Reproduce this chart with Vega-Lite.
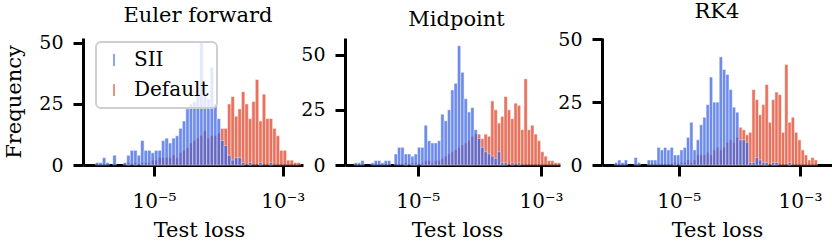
{
"$schema": "https://vega.github.io/schema/vega-lite/v6.json",
"padding": {"left": 3, "top": 1, "right": 0, "bottom": 0},
"autosize": {"type": "pad"},
"bounds": "flush",
"spacing": 42,
"config": {
  "font": "DejaVu Serif",
  "view": {"stroke": null},
  "axis": {"domainColor": "black", "domainWidth": 3, "tickColor": "black", "tickWidth": 3, "grid": false, "labelFont": "DejaVu Serif", "labelFontSize": 19, "labelColor": "black", "titleFont": "DejaVu Serif", "titleFontSize": 21, "titleFontWeight": "normal", "titleColor": "black"},
  "title": {"font": "DejaVu Serif", "fontSize": 21, "fontWeight": "normal", "color": "black", "offset": 8},
  "legend": {"strokeWidth": 2}
},
"datasets": {
"euler": [
{"series":"Default","lo":-5.424,"hi":-5.370,"count":1},
{"series":"Default","lo":-5.316,"hi":-5.262,"count":1},
{"series":"Default","lo":-5.208,"hi":-5.154,"count":1},
{"series":"Default","lo":-5.154,"hi":-5.100,"count":1},
{"series":"Default","lo":-5.100,"hi":-5.046,"count":1},
{"series":"Default","lo":-5.046,"hi":-4.992,"count":2},
{"series":"Default","lo":-4.992,"hi":-4.938,"count":2},
{"series":"Default","lo":-4.938,"hi":-4.884,"count":3},
{"series":"Default","lo":-4.884,"hi":-4.830,"count":3},
{"series":"Default","lo":-4.830,"hi":-4.776,"count":3},
{"series":"Default","lo":-4.776,"hi":-4.722,"count":3},
{"series":"Default","lo":-4.722,"hi":-4.668,"count":4},
{"series":"Default","lo":-4.668,"hi":-4.614,"count":3},
{"series":"Default","lo":-4.614,"hi":-4.560,"count":5},
{"series":"Default","lo":-4.560,"hi":-4.506,"count":6},
{"series":"Default","lo":-4.506,"hi":-4.452,"count":7},
{"series":"Default","lo":-4.452,"hi":-4.398,"count":9},
{"series":"Default","lo":-4.398,"hi":-4.344,"count":10},
{"series":"Default","lo":-4.344,"hi":-4.290,"count":11},
{"series":"Default","lo":-4.290,"hi":-4.236,"count":12},
{"series":"Default","lo":-4.236,"hi":-4.182,"count":14},
{"series":"Default","lo":-4.182,"hi":-4.128,"count":11},
{"series":"Default","lo":-4.128,"hi":-4.074,"count":12},
{"series":"Default","lo":-4.074,"hi":-4.020,"count":12},
{"series":"Default","lo":-4.020,"hi":-3.966,"count":13},
{"series":"Default","lo":-3.966,"hi":-3.912,"count":15},
{"series":"Default","lo":-3.912,"hi":-3.858,"count":15},
{"series":"Default","lo":-3.858,"hi":-3.804,"count":25},
{"series":"Default","lo":-3.804,"hi":-3.750,"count":28},
{"series":"Default","lo":-3.750,"hi":-3.696,"count":20},
{"series":"Default","lo":-3.696,"hi":-3.642,"count":23},
{"series":"Default","lo":-3.642,"hi":-3.588,"count":30},
{"series":"Default","lo":-3.588,"hi":-3.534,"count":25},
{"series":"Default","lo":-3.534,"hi":-3.480,"count":19},
{"series":"Default","lo":-3.480,"hi":-3.426,"count":26},
{"series":"Default","lo":-3.426,"hi":-3.372,"count":35},
{"series":"Default","lo":-3.372,"hi":-3.318,"count":18},
{"series":"Default","lo":-3.318,"hi":-3.264,"count":29},
{"series":"Default","lo":-3.264,"hi":-3.210,"count":19},
{"series":"Default","lo":-3.210,"hi":-3.156,"count":19},
{"series":"Default","lo":-3.156,"hi":-3.102,"count":15},
{"series":"Default","lo":-3.102,"hi":-3.048,"count":12},
{"series":"Default","lo":-3.048,"hi":-2.994,"count":6},
{"series":"Default","lo":-2.994,"hi":-2.940,"count":6},
{"series":"Default","lo":-2.940,"hi":-2.886,"count":2},
{"series":"Default","lo":-2.886,"hi":-2.832,"count":2},
{"series":"Default","lo":-2.832,"hi":-2.778,"count":1},
{"series":"Default","lo":-2.778,"hi":-2.724,"count":1},
{"series":"SII","lo":-5.910,"hi":-5.856,"count":1},
{"series":"SII","lo":-5.856,"hi":-5.802,"count":1},
{"series":"SII","lo":-5.802,"hi":-5.748,"count":3},
{"series":"SII","lo":-5.748,"hi":-5.694,"count":1},
{"series":"SII","lo":-5.640,"hi":-5.586,"count":4},
{"series":"SII","lo":-5.478,"hi":-5.424,"count":1},
{"series":"SII","lo":-5.424,"hi":-5.370,"count":4},
{"series":"SII","lo":-5.370,"hi":-5.316,"count":6},
{"series":"SII","lo":-5.316,"hi":-5.262,"count":6},
{"series":"SII","lo":-5.262,"hi":-5.208,"count":4},
{"series":"SII","lo":-5.208,"hi":-5.154,"count":10},
{"series":"SII","lo":-5.154,"hi":-5.100,"count":6},
{"series":"SII","lo":-5.100,"hi":-5.046,"count":6},
{"series":"SII","lo":-5.046,"hi":-4.992,"count":5},
{"series":"SII","lo":-4.992,"hi":-4.938,"count":6},
{"series":"SII","lo":-4.938,"hi":-4.884,"count":6},
{"series":"SII","lo":-4.884,"hi":-4.830,"count":10},
{"series":"SII","lo":-4.830,"hi":-4.776,"count":11},
{"series":"SII","lo":-4.776,"hi":-4.722,"count":9},
{"series":"SII","lo":-4.722,"hi":-4.668,"count":11},
{"series":"SII","lo":-4.668,"hi":-4.614,"count":12},
{"series":"SII","lo":-4.614,"hi":-4.560,"count":15},
{"series":"SII","lo":-4.560,"hi":-4.506,"count":18},
{"series":"SII","lo":-4.506,"hi":-4.452,"count":23},
{"series":"SII","lo":-4.452,"hi":-4.398,"count":25},
{"series":"SII","lo":-4.398,"hi":-4.344,"count":26},
{"series":"SII","lo":-4.344,"hi":-4.290,"count":29},
{"series":"SII","lo":-4.290,"hi":-4.236,"count":50},
{"series":"SII","lo":-4.236,"hi":-4.182,"count":29},
{"series":"SII","lo":-4.182,"hi":-4.128,"count":27},
{"series":"SII","lo":-4.128,"hi":-4.074,"count":40},
{"series":"SII","lo":-4.074,"hi":-4.020,"count":25},
{"series":"SII","lo":-4.020,"hi":-3.966,"count":19},
{"series":"SII","lo":-3.966,"hi":-3.912,"count":10},
{"series":"SII","lo":-3.912,"hi":-3.858,"count":8},
{"series":"SII","lo":-3.858,"hi":-3.804,"count":4},
{"series":"SII","lo":-3.804,"hi":-3.750,"count":2},
{"series":"SII","lo":-3.750,"hi":-3.696,"count":3},
{"series":"SII","lo":-3.696,"hi":-3.642,"count":3},
{"series":"SII","lo":-3.642,"hi":-3.588,"count":1},
{"series":"SII","lo":-3.534,"hi":-3.480,"count":1},
{"series":"SII","lo":-3.372,"hi":-3.318,"count":1},
{"series":"SII","lo":-3.210,"hi":-3.156,"count":1}
],
"midpoint": [
{"series":"Default","lo":-5.220,"hi":-5.166,"count":1},
{"series":"Default","lo":-5.112,"hi":-5.058,"count":1},
{"series":"Default","lo":-5.058,"hi":-5.004,"count":1},
{"series":"Default","lo":-4.950,"hi":-4.896,"count":1},
{"series":"Default","lo":-4.896,"hi":-4.842,"count":2},
{"series":"Default","lo":-4.842,"hi":-4.788,"count":2},
{"series":"Default","lo":-4.788,"hi":-4.734,"count":1},
{"series":"Default","lo":-4.734,"hi":-4.680,"count":2},
{"series":"Default","lo":-4.680,"hi":-4.626,"count":2},
{"series":"Default","lo":-4.626,"hi":-4.572,"count":3},
{"series":"Default","lo":-4.572,"hi":-4.518,"count":4},
{"series":"Default","lo":-4.518,"hi":-4.464,"count":5},
{"series":"Default","lo":-4.464,"hi":-4.410,"count":6},
{"series":"Default","lo":-4.410,"hi":-4.356,"count":7},
{"series":"Default","lo":-4.356,"hi":-4.302,"count":8},
{"series":"Default","lo":-4.302,"hi":-4.248,"count":9},
{"series":"Default","lo":-4.248,"hi":-4.194,"count":10},
{"series":"Default","lo":-4.194,"hi":-4.140,"count":11},
{"series":"Default","lo":-4.140,"hi":-4.086,"count":13},
{"series":"Default","lo":-4.086,"hi":-4.032,"count":14},
{"series":"Default","lo":-4.032,"hi":-3.978,"count":14},
{"series":"Default","lo":-3.978,"hi":-3.924,"count":12},
{"series":"Default","lo":-3.924,"hi":-3.870,"count":14},
{"series":"Default","lo":-3.870,"hi":-3.816,"count":13},
{"series":"Default","lo":-3.816,"hi":-3.762,"count":29},
{"series":"Default","lo":-3.762,"hi":-3.708,"count":25},
{"series":"Default","lo":-3.708,"hi":-3.654,"count":19},
{"series":"Default","lo":-3.654,"hi":-3.600,"count":22},
{"series":"Default","lo":-3.600,"hi":-3.546,"count":31},
{"series":"Default","lo":-3.546,"hi":-3.492,"count":25},
{"series":"Default","lo":-3.492,"hi":-3.438,"count":21},
{"series":"Default","lo":-3.438,"hi":-3.384,"count":28},
{"series":"Default","lo":-3.384,"hi":-3.330,"count":27},
{"series":"Default","lo":-3.330,"hi":-3.276,"count":16},
{"series":"Default","lo":-3.276,"hi":-3.222,"count":39},
{"series":"Default","lo":-3.222,"hi":-3.168,"count":16},
{"series":"Default","lo":-3.168,"hi":-3.114,"count":18},
{"series":"Default","lo":-3.114,"hi":-3.060,"count":14},
{"series":"Default","lo":-3.060,"hi":-3.006,"count":11},
{"series":"Default","lo":-3.006,"hi":-2.952,"count":6},
{"series":"Default","lo":-2.952,"hi":-2.898,"count":4},
{"series":"Default","lo":-2.898,"hi":-2.844,"count":2},
{"series":"Default","lo":-2.844,"hi":-2.790,"count":2},
{"series":"Default","lo":-2.790,"hi":-2.736,"count":1},
{"series":"Default","lo":-2.736,"hi":-2.682,"count":1},
{"series":"SII","lo":-6.030,"hi":-5.976,"count":1},
{"series":"SII","lo":-5.976,"hi":-5.922,"count":1},
{"series":"SII","lo":-5.922,"hi":-5.868,"count":2},
{"series":"SII","lo":-5.760,"hi":-5.706,"count":1},
{"series":"SII","lo":-5.706,"hi":-5.652,"count":2},
{"series":"SII","lo":-5.652,"hi":-5.598,"count":2},
{"series":"SII","lo":-5.598,"hi":-5.544,"count":1},
{"series":"SII","lo":-5.544,"hi":-5.490,"count":2},
{"series":"SII","lo":-5.490,"hi":-5.436,"count":2},
{"series":"SII","lo":-5.382,"hi":-5.328,"count":5},
{"series":"SII","lo":-5.328,"hi":-5.274,"count":8},
{"series":"SII","lo":-5.274,"hi":-5.220,"count":8},
{"series":"SII","lo":-5.220,"hi":-5.166,"count":5},
{"series":"SII","lo":-5.166,"hi":-5.112,"count":5},
{"series":"SII","lo":-5.112,"hi":-5.058,"count":4},
{"series":"SII","lo":-5.058,"hi":-5.004,"count":5},
{"series":"SII","lo":-5.004,"hi":-4.950,"count":8},
{"series":"SII","lo":-4.950,"hi":-4.896,"count":8},
{"series":"SII","lo":-4.896,"hi":-4.842,"count":18},
{"series":"SII","lo":-4.842,"hi":-4.788,"count":11},
{"series":"SII","lo":-4.788,"hi":-4.734,"count":10},
{"series":"SII","lo":-4.734,"hi":-4.680,"count":10},
{"series":"SII","lo":-4.680,"hi":-4.626,"count":11},
{"series":"SII","lo":-4.626,"hi":-4.572,"count":23},
{"series":"SII","lo":-4.572,"hi":-4.518,"count":20},
{"series":"SII","lo":-4.518,"hi":-4.464,"count":25},
{"series":"SII","lo":-4.464,"hi":-4.410,"count":34},
{"series":"SII","lo":-4.410,"hi":-4.356,"count":37},
{"series":"SII","lo":-4.356,"hi":-4.302,"count":54},
{"series":"SII","lo":-4.302,"hi":-4.248,"count":42},
{"series":"SII","lo":-4.248,"hi":-4.194,"count":30},
{"series":"SII","lo":-4.194,"hi":-4.140,"count":24},
{"series":"SII","lo":-4.140,"hi":-4.086,"count":26},
{"series":"SII","lo":-4.086,"hi":-4.032,"count":16},
{"series":"SII","lo":-4.032,"hi":-3.978,"count":12},
{"series":"SII","lo":-3.978,"hi":-3.924,"count":8},
{"series":"SII","lo":-3.924,"hi":-3.870,"count":6},
{"series":"SII","lo":-3.870,"hi":-3.816,"count":5},
{"series":"SII","lo":-3.816,"hi":-3.762,"count":4},
{"series":"SII","lo":-3.762,"hi":-3.708,"count":3},
{"series":"SII","lo":-3.708,"hi":-3.654,"count":6},
{"series":"SII","lo":-3.654,"hi":-3.600,"count":1},
{"series":"SII","lo":-3.600,"hi":-3.546,"count":1},
{"series":"SII","lo":-3.492,"hi":-3.438,"count":1},
{"series":"SII","lo":-3.384,"hi":-3.330,"count":1}
],
"rk4": [
{"series":"Default","lo":-5.088,"hi":-5.034,"count":1},
{"series":"Default","lo":-4.980,"hi":-4.926,"count":1},
{"series":"Default","lo":-4.926,"hi":-4.872,"count":1},
{"series":"Default","lo":-4.872,"hi":-4.818,"count":2},
{"series":"Default","lo":-4.818,"hi":-4.764,"count":1},
{"series":"Default","lo":-4.764,"hi":-4.710,"count":2},
{"series":"Default","lo":-4.710,"hi":-4.656,"count":4},
{"series":"Default","lo":-4.656,"hi":-4.602,"count":4},
{"series":"Default","lo":-4.602,"hi":-4.548,"count":4},
{"series":"Default","lo":-4.548,"hi":-4.494,"count":5},
{"series":"Default","lo":-4.494,"hi":-4.440,"count":4},
{"series":"Default","lo":-4.440,"hi":-4.386,"count":6},
{"series":"Default","lo":-4.386,"hi":-4.332,"count":7},
{"series":"Default","lo":-4.332,"hi":-4.278,"count":6},
{"series":"Default","lo":-4.278,"hi":-4.224,"count":7},
{"series":"Default","lo":-4.224,"hi":-4.170,"count":9},
{"series":"Default","lo":-4.170,"hi":-4.116,"count":10},
{"series":"Default","lo":-4.116,"hi":-4.062,"count":9},
{"series":"Default","lo":-4.062,"hi":-4.008,"count":11},
{"series":"Default","lo":-4.008,"hi":-3.954,"count":15},
{"series":"Default","lo":-3.954,"hi":-3.900,"count":14},
{"series":"Default","lo":-3.900,"hi":-3.846,"count":12},
{"series":"Default","lo":-3.846,"hi":-3.792,"count":13},
{"series":"Default","lo":-3.792,"hi":-3.738,"count":30},
{"series":"Default","lo":-3.738,"hi":-3.684,"count":26},
{"series":"Default","lo":-3.684,"hi":-3.630,"count":20},
{"series":"Default","lo":-3.630,"hi":-3.576,"count":24},
{"series":"Default","lo":-3.576,"hi":-3.522,"count":32},
{"series":"Default","lo":-3.522,"hi":-3.468,"count":17},
{"series":"Default","lo":-3.468,"hi":-3.414,"count":26},
{"series":"Default","lo":-3.414,"hi":-3.360,"count":29},
{"series":"Default","lo":-3.360,"hi":-3.306,"count":28},
{"series":"Default","lo":-3.306,"hi":-3.252,"count":13},
{"series":"Default","lo":-3.252,"hi":-3.198,"count":40},
{"series":"Default","lo":-3.198,"hi":-3.144,"count":17},
{"series":"Default","lo":-3.144,"hi":-3.090,"count":19},
{"series":"Default","lo":-3.090,"hi":-3.036,"count":13},
{"series":"Default","lo":-3.036,"hi":-2.982,"count":10},
{"series":"Default","lo":-2.982,"hi":-2.928,"count":6},
{"series":"Default","lo":-2.928,"hi":-2.874,"count":4},
{"series":"Default","lo":-2.874,"hi":-2.820,"count":2},
{"series":"Default","lo":-2.820,"hi":-2.766,"count":3},
{"series":"Default","lo":-2.766,"hi":-2.712,"count":2},
{"series":"SII","lo":-6.060,"hi":-6.006,"count":1},
{"series":"SII","lo":-6.006,"hi":-5.952,"count":2},
{"series":"SII","lo":-5.952,"hi":-5.898,"count":1},
{"series":"SII","lo":-5.898,"hi":-5.844,"count":2},
{"series":"SII","lo":-5.736,"hi":-5.682,"count":3},
{"series":"SII","lo":-5.682,"hi":-5.628,"count":1},
{"series":"SII","lo":-5.520,"hi":-5.466,"count":2},
{"series":"SII","lo":-5.466,"hi":-5.412,"count":2},
{"series":"SII","lo":-5.412,"hi":-5.358,"count":2},
{"series":"SII","lo":-5.358,"hi":-5.304,"count":7},
{"series":"SII","lo":-5.304,"hi":-5.250,"count":6},
{"series":"SII","lo":-5.250,"hi":-5.196,"count":7},
{"series":"SII","lo":-5.196,"hi":-5.142,"count":6},
{"series":"SII","lo":-5.142,"hi":-5.088,"count":7},
{"series":"SII","lo":-5.088,"hi":-5.034,"count":4},
{"series":"SII","lo":-5.034,"hi":-4.980,"count":4},
{"series":"SII","lo":-4.980,"hi":-4.926,"count":6},
{"series":"SII","lo":-4.926,"hi":-4.872,"count":7},
{"series":"SII","lo":-4.872,"hi":-4.818,"count":11},
{"series":"SII","lo":-4.818,"hi":-4.764,"count":17},
{"series":"SII","lo":-4.764,"hi":-4.710,"count":6},
{"series":"SII","lo":-4.710,"hi":-4.656,"count":10},
{"series":"SII","lo":-4.656,"hi":-4.602,"count":16},
{"series":"SII","lo":-4.602,"hi":-4.548,"count":19},
{"series":"SII","lo":-4.548,"hi":-4.494,"count":24},
{"series":"SII","lo":-4.494,"hi":-4.440,"count":35},
{"series":"SII","lo":-4.440,"hi":-4.386,"count":25},
{"series":"SII","lo":-4.386,"hi":-4.332,"count":25},
{"series":"SII","lo":-4.332,"hi":-4.278,"count":43},
{"series":"SII","lo":-4.278,"hi":-4.224,"count":38},
{"series":"SII","lo":-4.224,"hi":-4.170,"count":36},
{"series":"SII","lo":-4.170,"hi":-4.116,"count":30},
{"series":"SII","lo":-4.116,"hi":-4.062,"count":23},
{"series":"SII","lo":-4.062,"hi":-4.008,"count":21},
{"series":"SII","lo":-4.008,"hi":-3.954,"count":10},
{"series":"SII","lo":-3.954,"hi":-3.900,"count":10},
{"series":"SII","lo":-3.900,"hi":-3.846,"count":9},
{"series":"SII","lo":-3.846,"hi":-3.792,"count":1},
{"series":"SII","lo":-3.792,"hi":-3.738,"count":1},
{"series":"SII","lo":-3.738,"hi":-3.684,"count":3},
{"series":"SII","lo":-3.684,"hi":-3.630,"count":2},
{"series":"SII","lo":-3.630,"hi":-3.576,"count":1},
{"series":"SII","lo":-3.576,"hi":-3.522,"count":1},
{"series":"SII","lo":-3.468,"hi":-3.414,"count":1},
{"series":"SII","lo":-3.414,"hi":-3.360,"count":1},
{"series":"SII","lo":-3.198,"hi":-3.144,"count":1}
]
},
"resolve": {"scale": {"color": "independent", "x": "independent", "y": "independent"}, "legend": {"color": "independent"}},
"hconcat": [
{
  "width": 220, "height": 127,
  "title": {"text": "Euler forward", "dx": 5},
  "data": {"name": "euler"},
  "mark": {"type": "bar", "opacity": 0.75, "stroke": "white", "strokeWidth": 0.5},
  "encoding": {
    "x": {"field": "lo", "type": "quantitative", "scale": {"domain": [-6.103, -2.685], "nice": false, "zero": false}, "axis": {"values": [-5, -3], "labelExpr": "datum.value == -5 ? '10⁻⁵' : '10⁻³'", "labelFont": "DejaVu Serif", "labelFontSize": 20, "labelColor": "black", "labelPadding": 15, "tickSize": 11, "title": "Test loss", "titlePadding": 8, "titleX": 116}},
    "x2": {"field": "hi"},
    "y": {"field": "count", "type": "quantitative", "stack": null, "scale": {"domain": [0, 52], "nice": false}, "axis": {"values": [0, 25, 50], "labelFont": "DejaVu Serif", "labelFontSize": 19, "labelColor": "black", "labelPadding": 10, "tickSize": 10, "title": "Frequency", "titlePadding": 14}},
    "y2": {"datum": 0},
    "color": {"field": "series", "type": "nominal", "scale": {"domain": ["SII", "Default"], "range": ["#3d65e4", "#e04429"]},
      "legend": {"title": null, "orient": "none", "legendX": 13, "legendY": 4, "symbolType": "M-0.13,-1L0.13,-1L0.13,1L-0.13,1Z", "symbolSize": 144, "symbolStrokeWidth": 0, "symbolOpacity": 0.75, "labelFontSize": 20, "labelFont": "DejaVu Serif", "labelColor": "black", "labelOffset": 10, "rowPadding": 10, "padding": 8, "strokeColor": "#cfcfcf", "cornerRadius": 5, "fillColor": "rgba(255,255,255,0.8)"}}
  }
},
{
  "width": 215, "height": 127,
  "title": {"text": "Midpoint", "dx": 4},
  "data": {"name": "midpoint"},
  "mark": {"type": "bar", "opacity": 0.75, "stroke": "white", "strokeWidth": 0.5},
  "encoding": {
    "x": {"field": "lo", "type": "quantitative", "scale": {"domain": [-6.179, -2.692], "nice": false, "zero": false}, "axis": {"values": [-5, -3], "labelExpr": "datum.value == -5 ? '10⁻⁵' : '10⁻³'", "labelFont": "DejaVu Serif", "labelFontSize": 20, "labelColor": "black", "labelPadding": 15, "tickSize": 11, "title": "Test loss", "titlePadding": 8, "titleX": 112}},
    "x2": {"field": "hi"},
    "y": {"field": "count", "type": "quantitative", "stack": null, "scale": {"domain": [0, 57.5], "nice": false}, "axis": {"values": [0, 25, 50], "labelFont": "DejaVu Serif", "labelFontSize": 19, "labelColor": "black", "labelPadding": 10, "tickSize": 10, "title": null}},
    "y2": {"datum": 0},
    "color": {"field": "series", "type": "nominal", "scale": {"domain": ["SII", "Default"], "range": ["#3d65e4", "#e04429"]}, "legend": null}
  }
},
{
  "width": 230, "height": 127,
  "title": {"text": "RK4"},
  "data": {"name": "rk4"},
  "mark": {"type": "bar", "opacity": 0.75, "stroke": "white", "strokeWidth": 0.5},
  "encoding": {
    "x": {"field": "lo", "type": "quantitative", "scale": {"domain": [-6.265, -2.472], "nice": false, "zero": false}, "axis": {"values": [-5, -3], "labelExpr": "datum.value == -5 ? '10⁻⁵' : '10⁻³'", "labelFont": "DejaVu Serif", "labelFontSize": 20, "labelColor": "black", "labelPadding": 15, "tickSize": 11, "title": "Test loss", "titlePadding": 8}},
    "x2": {"field": "hi"},
    "y": {"field": "count", "type": "quantitative", "stack": null, "scale": {"domain": [0, 50.5], "nice": false}, "axis": {"values": [0, 25, 50], "labelFont": "DejaVu Serif", "labelFontSize": 19, "labelColor": "black", "labelPadding": 10, "tickSize": 10, "title": null}},
    "y2": {"datum": 0},
    "color": {"field": "series", "type": "nominal", "scale": {"domain": ["SII", "Default"], "range": ["#3d65e4", "#e04429"]}, "legend": null}
  }
}
]
}
